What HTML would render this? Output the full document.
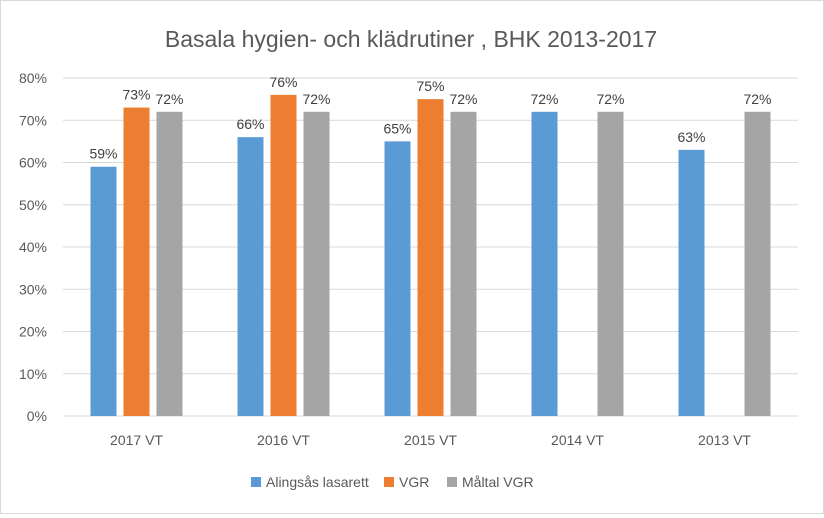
<!DOCTYPE html>
<html><head><meta charset="utf-8"><style>
body{margin:0;background:#fff;}
#c{position:relative;width:822px;height:512px;border:1px solid #d9d9d9;background:#fff;font-family:"Liberation Sans",sans-serif;}
</style></head><body>
<div id="c">
<svg id="s" width="822" height="512"></svg>
</div>
<script>
const categories=["2017 VT","2016 VT","2015 VT","2014 VT","2013 VT"];
const alingsas=[59,66,65,72,63];
const vgr=[73,76,75,null,null];
const maltal=[72,72,72,72,72];
const yTicks=[0,10,20,30,40,50,60,70,80];
const seriesNames=["Alingsås lasarett","VGR","Måltal VGR"];
const colors=["#5b9bd5","#ed7d31","#a5a5a5"];
const NS="http://www.w3.org/2000/svg";
const svg=document.getElementById('s');
const L=62,R=797,T=77,B=415,YMAX=80;
const y=v=>B-(v/YMAX)*(B-T);
const bw=(R-L)/categories.length;
const xc=i=>L+bw*(i+0.5);
function mk(t,a){const e=document.createElementNS(NS,t);for(const k in a)e.setAttribute(k,a[k]);svg.appendChild(e);return e;}
const title=mk('text',{x:410,y:46,'text-anchor':'middle','font-size':23,fill:'#595959'});


title.textContent='Basala hygien- och klädrutiner , BHK  2013-2017';
yTicks.forEach(t=>{
 const g=mk('line',{x1:L,x2:R,y1:y(t),y2:y(t),stroke:'#d9d9d9','stroke-width':1});
 
 
 const l=mk('text',{x:46,y:y(t)+5,'text-anchor':'end','font-size':14,fill:'#595959'});
 
 
 l.textContent=t+'%';
});
const series=[alingsas,vgr,maltal];
categories.forEach((c,i)=>{
 series.forEach((s,j)=>{
  const v=s[i]; if(v==null)return;
  const cx=xc(i)+(j-1)*33;
  const r=mk('rect',{x:cx-13,y:y(v),width:26,height:B-y(v),fill:colors[j]});
  
  
  const t=mk('text',{x:cx,y:y(v)-8,'text-anchor':'middle','font-size':14,fill:'#404040'});
  
  
  t.textContent=v+'%';
 });
 const xl=mk('text',{x:xc(i),y:444,'text-anchor':'middle','font-size':14,fill:'#595959'});
 
 
 xl.textContent=c;
});
const lx=[250,383,446];
seriesNames.forEach((n,j)=>{
 const r=mk('rect',{x:lx[j],y:476,width:10,height:10,fill:colors[j]});
 
 
 const t=mk('text',{x:lx[j]+15,y:486,'font-size':14,fill:'#595959'});
 
 
 t.textContent=n;
});
</script>
</body></html>
